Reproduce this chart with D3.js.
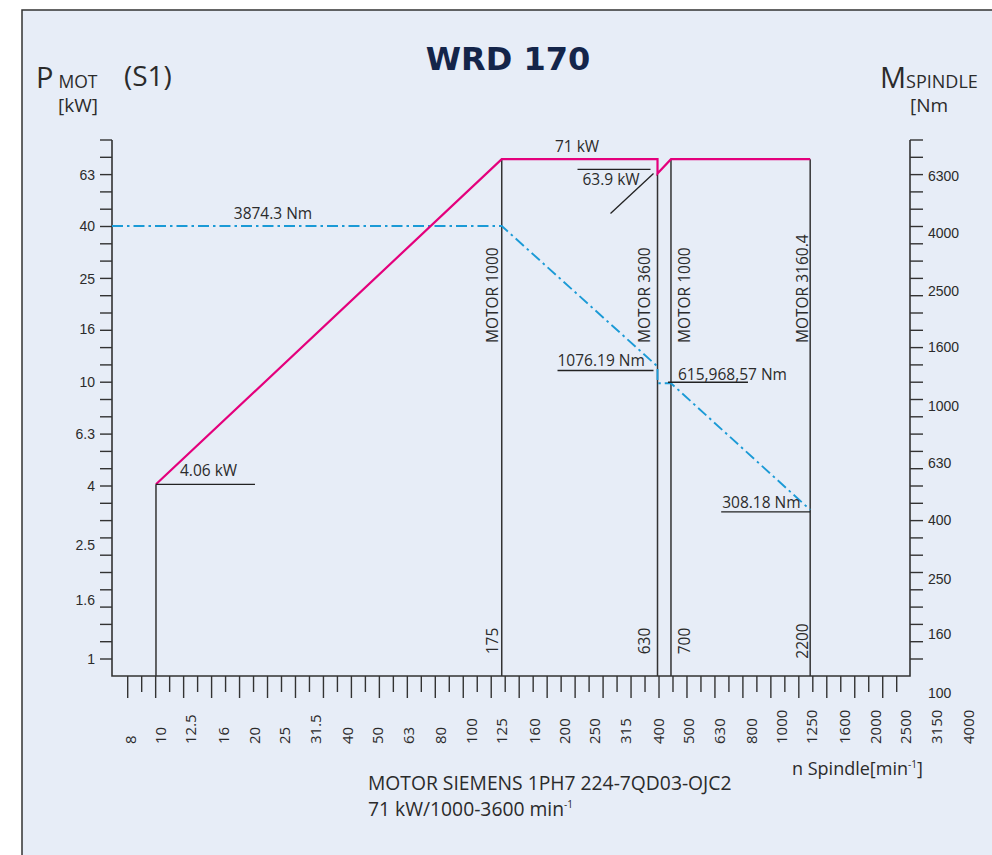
<!DOCTYPE html>
<html>
<head>
    <meta charset="utf-8">
    <title>WRD 170 power / torque chart</title>
    <script src="https://d3js.org/d3.v7.min.js"></script>
    <style>
        body { margin: 0; background: #fff; }
        text { font-family: "Open Sans", sans-serif; fill: #2b2b2b; }
        .tick-lbl { font-family: "Liberation Sans", Arial, sans-serif; font-size: 14px; }
        .ann { font-size: 15.5px; }
    </style>
</head>
<body>
    <div id="chart"></div>

    <script>
        // axis tick labels
        var speedTicks = [8, 10, 12.5, 16, 20, 25, 31.5, 40, 50, 63, 80, 100, 125, 160, 200, 250,
                          315, 400, 500, 630, 800, 1000, 1250, 1600, 2000, 2500, 3150, 4000];
        var powerTicks = [63, 40, 25, 16, 10, 6.3, 4, 2.5, 1.6, 1];
        var torqueTicks = [6300, 4000, 2500, 1600, 1000, 630, 400, 250, 160, 100];

        // power curve (S1), speeds as read on the spindle axis
        var powerSpeed = [9.7, 126, 400, 400, 442, 1241];
        var powerKW = [4.06, 72.5, 72.5, 63.9, 72.5, 72.5];

        // torque curve, read on the right axis
        var torqueSpeed = [7, 126, 400, 400, 442, 1241];
        var torqueNm = [4220, 4220, 1369, 1197, 1197, 434];

        // gear change lines
        var gearSpeed = [126, 400, 442, 1241];
        var gearTop = [72.5, 63.9, 72.5, 72.5];
        var gearMotor = ["MOTOR 1000", "MOTOR 3600", "MOTOR 1000", "MOTOR 3160.4"];
        var gearSpindle = ["175", "630", "700", "2200"];

        var width = 992, height = 855;

        var svg = d3.select("#chart")
            .append("svg")
            .attr("width", width)
            .attr("height", height);

        // frame
        svg.append("rect")
            .attr("x", 22).attr("y", 10)
            .attr("width", 1000).attr("height", 900)
            .attr("fill", "#e7edf7")
            .attr("stroke", "#333").attr("stroke-width", 1.5);

        // scales
        var x = d3.scaleLog().domain([8, 4000]).range([130, 968]);
        var yP = d3.scaleLog().domain([1, 4, 10, 63]).range([659, 486, 382, 175]);
        var yT = d3.scaleLog().domain([100, 6300]).range([693, 176]);
        // evenly spaced minor tick grids
        var yGrid = d3.scaleLinear().domain([0, 30]).range([140, 659]);
        var xGrid = d3.scaleLinear().domain([0, 55]).range([127.7, 896.7]);

        var left = 112, right = 910, bottom = 676;
        var ink = "#333";

        // axis lines
        svg.append("path")
            .attr("d", "M" + left + "," + yGrid(0) + "V" + bottom + "H" + right + "V" + yGrid(0))
            .attr("fill", "none").attr("stroke", ink).attr("stroke-width", 1.6);

        var gi = d3.range(31);
        svg.selectAll(".ltick").data(gi).enter().append("line")
            .attr("x1", left - 12).attr("x2", left)
            .attr("y1", function (d) { return yGrid(d); })
            .attr("y2", function (d) { return yGrid(d); })
            .attr("stroke", ink).attr("stroke-width", 1.4);
        svg.selectAll(".rtick").data(gi).enter().append("line")
            .attr("x1", right).attr("x2", right + 13)
            .attr("y1", function (d) { return yGrid(d); })
            .attr("y2", function (d) { return yGrid(d); })
            .attr("stroke", ink).attr("stroke-width", 1.4);
        svg.selectAll(".xtick").data(d3.range(56)).enter().append("line")
            .attr("x1", function (d) { return xGrid(d); })
            .attr("x2", function (d) { return xGrid(d); })
            .attr("y1", bottom)
            .attr("y2", function (d) { return d % 2 === 0 ? bottom + 22 : bottom + 16; })
            .attr("stroke", ink).attr("stroke-width", 1.4);

        // tick labels
        svg.selectAll(".plbl").data(powerTicks).enter().append("text")
            .attr("class", "tick-lbl")
            .attr("x", 95)
            .attr("y", function (d) { return yP(d); })
            .attr("text-anchor", "end")
            .attr("dominant-baseline", "central")
            .text(function (d) { return d; });
        svg.selectAll(".tlbl").data(torqueTicks).enter().append("text")
            .attr("class", "tick-lbl")
            .attr("x", 928)
            .attr("y", function (d) { return yT(d); })
            .attr("dominant-baseline", "central")
            .text(function (d) { return d; });
        svg.selectAll(".xlbl").data(speedTicks).enter().append("text")
            .attr("font-size", 15)
            .attr("transform", function (d) { return "translate(" + x(d) + ",744) rotate(-90)"; })
            .attr("dominant-baseline", "central")
            .text(function (d) { return d; });

        // axis titles
        var pt = svg.append("text").attr("x", 36).attr("y", 88).attr("font-size", 29);
        pt.append("tspan").text("P");
        pt.append("tspan").attr("font-size", 17.5).attr("dx", 5).text("MOT");
        svg.append("text").attr("x", 124).attr("y", 86).attr("font-size", 28).text("(S1)");
        svg.append("text").attr("x", 58).attr("y", 112).attr("font-size", 19).text("[kW]");

        var mt = svg.append("text").attr("x", 880).attr("y", 88).attr("font-size", 29);
        mt.append("tspan").text("M");
        mt.append("tspan").attr("font-size", 18).text("SPINDLE");
        svg.append("text").attr("x", 910).attr("y", 112).attr("font-size", 19).text("[Nm");

        svg.append("text")
            .attr("x", 508).attr("y", 70)
            .attr("text-anchor", "middle")
            .style("font-family", "DejaVu Sans, sans-serif")
            .style("font-weight", "bold")
            .style("font-size", "32px")
            .style("fill", "#14254a")
            .text("WRD 170");

        var nt = svg.append("text").attr("x", 792).attr("y", 775).attr("font-size", 18);
        nt.append("tspan").text("n Spindle[min");
        nt.append("tspan").attr("font-size", 10).attr("dy", -7).text("-1");
        nt.append("tspan").attr("dy", 7).text("]");

        svg.append("text").attr("x", 368).attr("y", 790).attr("font-size", 19.3)
            .text("MOTOR SIEMENS 1PH7 224-7QD03-OJC2");
        var mt2 = svg.append("text").attr("x", 368).attr("y", 816).attr("font-size", 19.3);
        mt2.append("tspan").text("71 kW/1000-3600 min");
        mt2.append("tspan").attr("font-size", 10).attr("dy", -8).text("-1");

        // start line at 4.06 kW and gear lines
        svg.append("line")
            .attr("x1", x(powerSpeed[0])).attr("x2", x(powerSpeed[0]))
            .attr("y1", bottom).attr("y2", yP(powerKW[0]))
            .attr("stroke", ink).attr("stroke-width", 1.5);
        svg.selectAll(".gear").data(gearSpeed).enter().append("line")
            .attr("x1", function (d) { return x(d); })
            .attr("x2", function (d) { return x(d); })
            .attr("y1", bottom)
            .attr("y2", function (d, i) { return yP(gearTop[i]); })
            .attr("stroke", ink).attr("stroke-width", 1.5);

        var motorDx = [-10, -14, 13, -8];
        svg.selectAll(".motor").data(gearMotor).enter().append("text")
            .attr("class", "ann")
            .attr("transform", function (d, i) {
                return "translate(" + (x(gearSpeed[i]) + motorDx[i]) + ",343) rotate(-90)";
            })
            .attr("dominant-baseline", "central")
            .text(function (d) { return d; });
        svg.selectAll(".spd").data(gearSpindle).enter().append("text")
            .attr("class", "ann")
            .attr("transform", function (d, i) {
                return "translate(" + (x(gearSpeed[i]) + motorDx[i]) + ",641) rotate(-90)";
            })
            .attr("text-anchor", "middle")
            .attr("dominant-baseline", "central")
            .text(function (d) { return d; });

        // torque curve
        var tLine = d3.line()
            .x(function (d, i) { return x(torqueSpeed[i]); })
            .y(function (d) { return yT(d); });
        svg.append("path")
            .attr("d", tLine(torqueNm))
            .attr("fill", "none")
            .attr("stroke", "#1b9ad6").attr("stroke-width", 1.9)
            .attr("stroke-dasharray", "11,4,2.5,4");

        // power curve
        var pLine = d3.line()
            .x(function (d, i) { return x(powerSpeed[i]); })
            .y(function (d) { return yP(d); });
        svg.append("path")
            .attr("d", pLine(powerKW))
            .attr("fill", "none")
            .attr("stroke", "#e4007c").attr("stroke-width", 2.2);

        // annotations
        function lead(x1, y1, x2, y2) {
            svg.append("line").attr("x1", x1).attr("y1", y1).attr("x2", x2).attr("y2", y2)
                .attr("stroke", "#222").attr("stroke-width", 1.3);
        }
        function note(tx, ty, s, anchor) {
            svg.append("text").attr("class", "ann")
                .attr("x", tx).attr("y", ty)
                .attr("text-anchor", anchor || "start")
                .text(s);
        }

        var p0x = x(powerSpeed[0]), p0y = yP(powerKW[0]);
        lead(p0x, p0y, p0x + 99, p0y);
        note(p0x + 24, p0y - 8, "4.06 kW");

        note(577, 152, "71 kW", "middle");

        var g1x = x(gearSpeed[1]), g1y = yP(gearTop[1]);
        lead(g1x - 80, g1y - 4, g1x - 7, g1y - 4);
        note(g1x - 75, g1y + 12, "63.9 kW");
        lead(g1x - 47, g1y + 40, g1x - 4, g1y);

        note(273, yT(torqueNm[0]) - 7, "3874.3 Nm", "middle");

        var t2x = x(torqueSpeed[2]), t2y = yT(torqueNm[2]);
        lead(t2x - 100, t2y + 4, t2x - 4, t2y + 4);
        note(t2x - 100, t2y, "1076.19 Nm");

        var t4x = x(torqueSpeed[4]), t4y = yT(torqueNm[4]);
        lead(t4x - 3, t4y - 1, t4x + 77, t4y - 1);
        note(t4x + 7, t4y - 3, "615,968,57 Nm");

        var t5x = x(torqueSpeed[5]), t5y = yT(torqueNm[5]);
        lead(t5x - 89, t5y + 2, t5x, t5y + 2);
        note(t5x - 88, t5y - 2, "308.18 Nm");
    </script>
</body>
</html>
